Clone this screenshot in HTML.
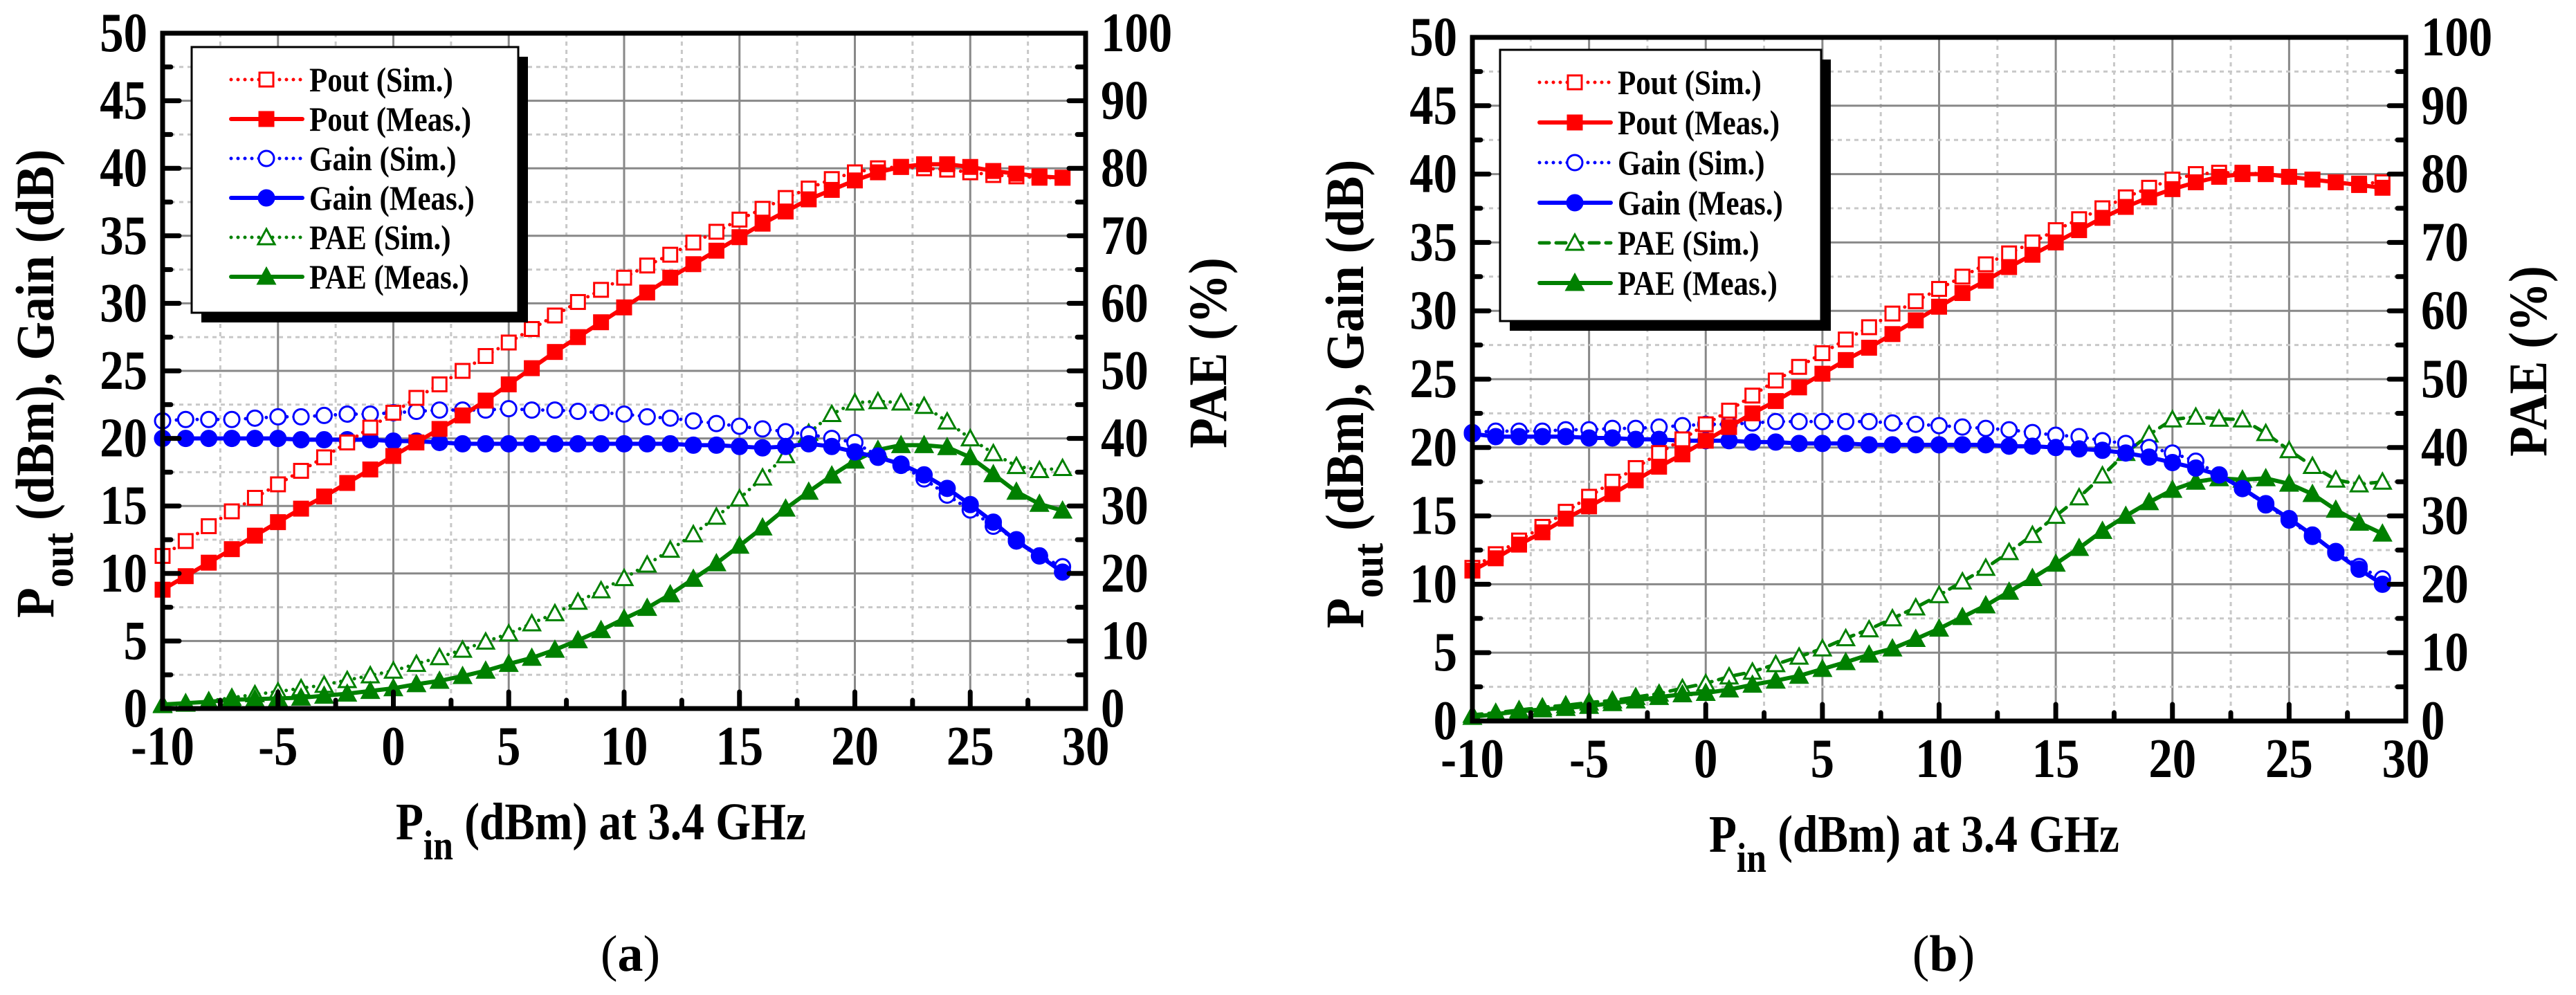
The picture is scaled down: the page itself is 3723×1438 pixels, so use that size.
<!DOCTYPE html>
<html><head><meta charset="utf-8">
<style>
html,body{margin:0;padding:0;background:#fff;}
svg{display:block;}
svg text{font-family:"Liberation Serif","DejaVu Serif","Times New Roman",serif;}
</style></head>
<body>
<svg id="fig" xmlns="http://www.w3.org/2000/svg" width="3723" height="1438" viewBox="0 0 3723 1438" font-family="Liberation Serif, DejaVu Serif, serif"></svg>
<script>
// ---- data ----
const pinValues = [-10,-9,-8,-7,-6,-5,-4,-3,-2,-1,0,1,2,3,4,5,6,7,8,9,10,11,12,13,14,15,16,17,18,19,20,21,22,23,24,25,26,27,28,29];
const xTickLabels = ["-10","-5","0","5","10","15","20","25","30"];
const leftTickLabels = ["0","5","10","15","20","25","30","35","40","45","50"];
const rightTickLabels = ["0","10","20","30","40","50","60","70","80","90","100"];
const legendLabels = ["Pout (Sim.)","Pout (Meas.)","Gain (Sim.)","Gain (Meas.)","PAE (Sim.)","PAE (Meas.)"];

const poutSimA = [11.3,12.4,13.5,14.6,15.6,16.6,17.6,18.6,19.7,20.8,21.9,23.0,24.0,25.0,26.1,27.1,28.1,29.1,30.1,31.0,31.9,32.8,33.6,34.5,35.3,36.2,37.0,37.8,38.5,39.2,39.7,40.0,40.1,40.0,39.9,39.7,39.5,39.4,39.3,39.3];
const poutMeasA = [8.8,9.8,10.8,11.8,12.8,13.8,14.8,15.7,16.7,17.7,18.7,19.7,20.7,21.7,22.8,24.0,25.2,26.4,27.5,28.6,29.7,30.8,31.9,32.9,33.9,34.9,35.9,36.8,37.7,38.4,39.1,39.7,40.1,40.3,40.3,40.1,39.8,39.6,39.4,39.3];
const gainSimA = [21.3,21.4,21.4,21.4,21.5,21.6,21.6,21.7,21.8,21.8,21.9,22.0,22.1,22.1,22.1,22.2,22.1,22.1,22.0,21.9,21.8,21.6,21.5,21.3,21.1,20.9,20.7,20.5,20.3,20.0,19.7,18.7,18.0,17.0,15.8,14.7,13.5,12.5,11.3,10.5];
const gainMeasA = [20.0,20.0,20.0,20.0,20.0,20.0,19.9,19.9,19.9,19.9,19.8,19.8,19.7,19.6,19.6,19.6,19.6,19.6,19.6,19.6,19.6,19.6,19.6,19.5,19.5,19.4,19.3,19.4,19.6,19.4,19.0,18.6,18.1,17.3,16.3,15.1,13.8,12.4,11.3,10.1];
const paeSimA = [0.5,0.7,1.1,1.6,2.1,2.5,3.0,3.5,4.2,4.9,5.6,6.6,7.6,8.7,9.9,11.1,12.6,14.1,15.8,17.5,19.3,21.3,23.5,25.8,28.4,31.1,34.2,37.5,40.8,43.6,45.3,45.5,45.3,44.8,42.5,40.0,37.8,35.9,35.3,35.6];
const paeMeasA = [0.6,0.8,1.0,1.3,1.4,1.5,1.6,1.9,2.2,2.6,3.0,3.6,4.1,4.8,5.6,6.6,7.5,8.7,10.1,11.6,13.3,14.9,16.9,19.2,21.5,24.1,26.8,29.6,32.1,34.5,36.7,38.3,39.0,39.0,38.7,37.2,34.7,32.1,30.3,29.3];

const poutSimB = [11.2,12.2,13.2,14.2,15.3,16.4,17.5,18.5,19.6,20.6,21.7,22.7,23.8,24.9,25.9,26.9,27.9,28.8,29.8,30.7,31.6,32.5,33.4,34.2,35.0,35.9,36.7,37.5,38.3,39.0,39.6,40.0,40.1,40.1,40.0,39.8,39.6,39.4,39.3,39.4];
const poutMeasB = [11.0,11.9,12.9,13.8,14.8,15.7,16.6,17.6,18.6,19.5,20.5,21.5,22.5,23.4,24.4,25.4,26.4,27.3,28.3,29.3,30.3,31.3,32.2,33.2,34.1,35.0,35.9,36.8,37.6,38.3,38.9,39.4,39.8,40.0,40.0,39.8,39.6,39.4,39.2,39.0];
const gainSimB = [21.1,21.2,21.2,21.2,21.3,21.3,21.4,21.4,21.5,21.6,21.7,21.7,21.8,21.9,21.9,21.9,21.9,21.9,21.8,21.7,21.6,21.5,21.4,21.3,21.1,20.9,20.8,20.5,20.3,20.0,19.6,19.0,18.0,17.0,15.8,14.7,13.5,12.4,11.3,10.4];
const gainMeasB = [21.0,20.8,20.8,20.8,20.8,20.7,20.7,20.6,20.6,20.5,20.5,20.5,20.4,20.4,20.3,20.3,20.3,20.2,20.2,20.2,20.2,20.2,20.2,20.1,20.1,20.0,19.9,19.8,19.6,19.3,18.9,18.5,18.0,17.0,15.9,14.8,13.6,12.3,11.1,10.0];
const paeSimB = [0.9,1.2,1.6,2.0,2.3,2.7,3.0,3.5,4.0,4.8,5.5,6.5,7.2,8.3,9.4,10.6,12.1,13.4,15.0,16.6,18.4,20.4,22.4,24.7,27.2,30.0,32.7,35.9,39.2,41.9,44.1,44.5,44.2,44.1,42.1,39.6,37.3,35.3,34.6,35.0];
const paeMeasB = [0.6,1.0,1.4,1.7,1.9,2.2,2.6,3.0,3.5,3.9,4.1,4.6,5.3,5.9,6.6,7.6,8.6,9.7,10.6,12.0,13.5,15.2,16.9,18.9,20.9,23.0,25.3,27.8,30.0,32.0,33.8,35.0,35.5,35.3,35.5,34.7,33.2,30.9,29.0,27.4];

const NS = "http://www.w3.org/2000/svg";
const FONT = '"Liberation Serif", "DejaVu Serif", serif';
const svg = document.getElementById('fig');
function mk(tag, attrs, parent){
  const e = document.createElementNS(NS, tag);
  for (const k in attrs) e.setAttribute(k, attrs[k]);
  (parent||svg).appendChild(e);
  return e;
}
function txt(str, x, y, size, anchor, parent, sx, weight){
  const t = mk('text', {transform:`translate(${x},${y}) scale(${sx||0.86},1)`, 'font-family':FONT, 'font-size':size, 'font-weight':weight||'bold', 'text-anchor':anchor||'start', fill:'#000'}, parent);
  t.textContent = str;
  return t;
}

const RED='#ff0000', BLUE='#0000ff', GREEN='#008000';

function drawPanel(p){
  const g = mk('g', {});
  
  
  const xs = v => p.L + (v - (-10)) / 40 * (p.R - p.L);
  const yl = v => p.B - v / 50 * (p.B - p.T);
  const yr = v => p.B - v / 100 * (p.B - p.T);

  const grid = mk('g', {}, g);
  
  
  for (let v = -7.5; v < 30; v += 2.5){
    const major = Math.abs(v % 5) < 1e-6;
    mk('line', {x1:xs(v), x2:xs(v), y1:p.T, y2:p.B, stroke: major?'#888':'#c8c8c8', 'stroke-width':3, 'stroke-dasharray': major?'':'6 6'}, grid);
  }
  for (let v = 2.5; v < 50; v += 2.5){
    const major = Math.abs(v % 5) < 1e-6;
    mk('line', {x1:p.L, x2:p.R, y1:yl(v), y2:yl(v), stroke: major?'#888':'#c8c8c8', 'stroke-width':3, 'stroke-dasharray': major?'':'6 6'}, grid);
  }

  function series(name, arr, ys, color, dash, marker, filled){
    const sg = mk('g', {}, g);
    
    
    const pts = arr.map((v,i)=>[xs(pinValues[i]), ys(v)]);
    const attrs = {points: pts.map(q=>q.join(',')).join(' '), fill:'none', stroke:color, 'stroke-width': dash ? 5 : 6, 'stroke-linecap':'round', 'stroke-linejoin':'round'};
    if (dash) attrs['stroke-dasharray'] = dash;
    mk('polyline', attrs, sg);
    pts.forEach(q=>{
      const fill = filled ? color : '#fff';
      let m;
      if (marker==='sq') m = mk('rect', {x:q[0]-10, y:q[1]-10, width:20, height:20, fill, stroke:color, 'stroke-width':3}, sg);
      else if (marker==='ci') m = mk('circle', {cx:q[0], cy:q[1], r:11, fill, stroke:color, 'stroke-width':3}, sg);
      else m = mk('polygon', {points:`${q[0]},${q[1]-12} ${q[0]+12},${q[1]+10} ${q[0]-12},${q[1]+10}`, fill, stroke:color, 'stroke-width':3}, sg);
      
      
    });
  }
  const dot = '0 10';
  series('pae-sim', p.paeSim, yr, GREEN, p.paeDash, 'tr', false);
  series('pae-meas', p.paeMeas, yr, GREEN, null, 'tr', true);
  series('gain-sim', p.gainSim, yl, BLUE, dot, 'ci', false);
  series('gain-meas', p.gainMeas, yl, BLUE, null, 'ci', true);
  series('pout-sim', p.poutSim, yl, RED, dot, 'sq', false);
  series('pout-meas', p.poutMeas, yl, RED, null, 'sq', true);

  const fr = mk('rect', {x:p.L, y:p.T, width:p.R-p.L, height:p.B-p.T, fill:'none', stroke:'#000', 'stroke-width':7}, g);
  
  

  const tk = {stroke:'#000', 'stroke-width':7, 'stroke-linecap':'round'};
  for (let v = -7.5; v < 30; v += 2.5){
    const len = Math.abs(v % 5) < 1e-6 ? 24 : 12;
    mk('line', Object.assign({x1:xs(v), x2:xs(v), y1:p.B, y2:p.B-len}, tk), g);
  }
  for (let v = 2.5; v < 50; v += 2.5){
    const len = Math.abs(v % 5) < 1e-6 ? 24 : 12;
    mk('line', Object.assign({x1:p.L, x2:p.L+len, y1:yl(v), y2:yl(v)}, tk), g);
    mk('line', Object.assign({x1:p.R, x2:p.R-len, y1:yl(v), y2:yl(v)}, tk), g);
  }

  xTickLabels.forEach((s,i)=>{
    const t = txt(s, xs(-10 + i*5), p.B + 81, 80, 'middle', g);
    
    
  });
  leftTickLabels.forEach((s,i)=>{
    const t = txt(s, p.L - 22, yl(i*5) + 26, 80, 'end', g);
    
    
  });
  rightTickLabels.forEach((s,i)=>{
    const t = txt(s, p.R + 22, yr(i*10) + 26, 80, 'start', g);
    
    
  });

  const xt = mk('text', {transform:`translate(${p.xTitleX},${p.B + 189}) scale(0.86,1)`, 'font-family':FONT, 'font-size':76, 'font-weight':'bold', fill:'#000'}, g);
  
  
  xt.innerHTML = 'P<tspan font-size="60" dy="29">in</tspan><tspan dy="-29"> (dBm) at 3.4 GHz</tspan>';

  const ylt = mk('text', {transform:`translate(${p.L - 158},${p.yTitleBottom}) rotate(-90) scale(0.92,1)`, 'font-family':FONT, 'font-size':78, 'font-weight':'bold', fill:'#000'}, g);
  
  
  ylt.innerHTML = 'P<tspan font-size="62" dy="28">out</tspan><tspan dy="-28"> (dBm), Gain (dB)</tspan>';

  const yrt = txt('PAE (%)', 0, 0, 78, 'middle', g, 1);
  yrt.setAttribute('transform', `translate(${p.R + 203},${(p.T+p.B)/2 - 26}) rotate(-90) scale(0.92,1)`);
  
  

  const cap = mk('text', {transform:`translate(${p.capX},1403)`, 'font-family':FONT, 'font-size':74, 'text-anchor':'middle', fill:'#000'}, g);
  
  
  cap.innerHTML = '(<tspan font-weight="bold">' + p.cap + '</tspan>)';

  const lg = mk('g', {}, g);
  
  
  const lx = p.legX, ly = p.legY, lw = p.legW, lh = p.legH;
  mk('rect', {x:lx+14, y:ly+14, width:lw, height:lh, fill:'#000'}, lg);
  mk('rect', {x:lx, y:ly, width:lw, height:lh, fill:'#fff', stroke:'#000', 'stroke-width':3}, lg);
  const specs = [[RED,dot,'sq',false],[RED,null,'sq',true],[BLUE,dot,'ci',false],[BLUE,null,'ci',true],[GREEN,p.paeDash,'tr',false],[GREEN,null,'tr',true]];
  specs.forEach((s,i)=>{
    const y = ly + 47 + i*p.legStep;
    const sx1 = lx + 57, sx2 = lx + 160, mx = lx + 108;
    const e = mk('g', {}, lg);
    
    
    const la = {x1:sx1, x2:sx2, y1:y, y2:y, stroke:s[0], 'stroke-width': s[1]?5:6, 'stroke-linecap':'round'};
    if (s[1]) la['stroke-dasharray'] = s[1];
    mk('line', la, e);
    const fill = s[3] ? s[0] : '#fff';
    if (s[2]==='sq') mk('rect', {x:mx-10, y:y-10, width:20, height:20, fill, stroke:s[0], 'stroke-width':3}, e);
    else if (s[2]==='ci') mk('circle', {cx:mx, cy:y, r:11, fill, stroke:s[0], 'stroke-width':3}, e);
    else mk('polygon', {points:`${mx},${y-12} ${mx+12},${y+10} ${mx-12},${y+10}`, fill, stroke:s[0], 'stroke-width':3}, e);
    txt(legendLabels[i], lx + 170, y + 17, 50, 'start', e, 0.86);
  });
}

drawPanel({id:'panel-a', L:235, R:1569, T:48, B:1024,
  poutSim:poutSimA, poutMeas:poutMeasA, gainSim:gainSimA, gainMeas:gainMeasA, paeSim:paeSimA, paeMeas:paeMeasA,
  paeDash:'0 10', xTitleX:572, yTitleBottom:893, capX:911, cap:'a',
  legX:277, legY:68, legW:472, legH:384, legStep:57});
drawPanel({id:'panel-b', L:2128, R:3477, T:54, B:1042,
  poutSim:poutSimB, poutMeas:poutMeasB, gainSim:gainSimB, gainMeas:gainMeasB, paeSim:paeSimB, paeMeas:paeMeasB,
  paeDash:'14 10', xTitleX:2470, yTitleBottom:908, capX:2809, cap:'b',
  legX:2168, legY:72, legW:464, legH:392, legStep:58});
</script>
</body></html>
